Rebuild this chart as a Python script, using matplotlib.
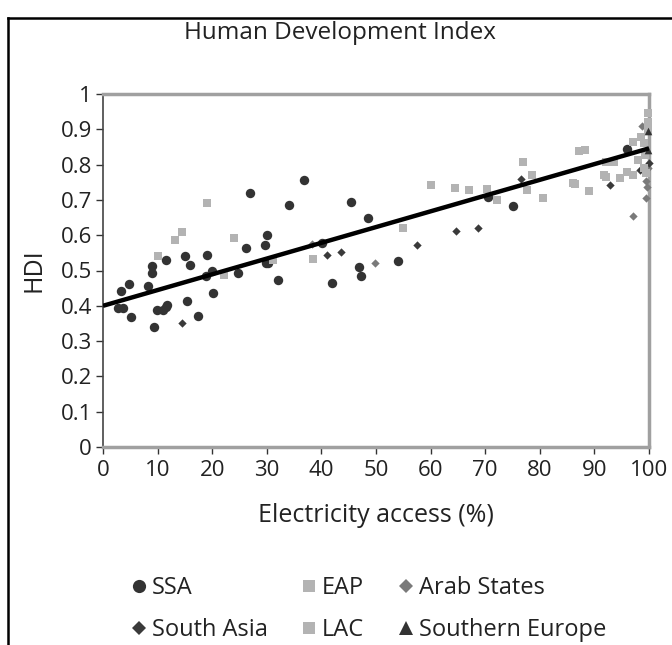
import matplotlib
matplotlib.use("Agg")
import matplotlib.pyplot as plt
from matplotlib.lines import Line2D

plt.rcParams['font.family'] = ['Open Sans', 'DejaVu Sans']

ssa_x = [3.3, 4.8, 2.8, 3.6, 5.1, 8.3, 9.0, 9.0, 9.3, 9.9, 11.0, 11.5, 11.8, 11.5, 15.0, 16.0, 15.4,
         17.4, 19.0, 20.0, 20.2, 24.8, 26.2, 27.0, 29.7, 30.0, 29.8, 30.2, 32.0, 34.0, 36.8, 45.4, 48.5,
         40.1, 42.0, 46.9, 47.3, 54.0, 70.5, 75.0, 96.0, 18.9]
ssa_y = [0.443, 0.461, 0.393, 0.393, 0.367, 0.457, 0.514, 0.493, 0.341, 0.388, 0.388, 0.396, 0.402,
         0.531, 0.542, 0.515, 0.414, 0.371, 0.543, 0.499, 0.435, 0.493, 0.565, 0.719, 0.572, 0.601,
         0.520, 0.520, 0.473, 0.686, 0.755, 0.694, 0.650, 0.577, 0.465, 0.511, 0.484, 0.527, 0.708,
         0.684, 0.845, 0.484]

eap_x = [10.1, 13.1, 14.5, 19.0, 24.0, 22.1, 38.5, 55.0, 60.0, 64.5, 67.1, 70.3, 72.1, 77.0, 77.6,
         78.6, 80.6, 87.1, 88.3, 86.1]
eap_y = [0.542, 0.585, 0.610, 0.692, 0.593, 0.487, 0.533, 0.620, 0.741, 0.735, 0.728, 0.731, 0.700,
         0.807, 0.728, 0.770, 0.704, 0.838, 0.840, 0.749]

lac_x = [86.4, 89.1, 91.8, 92.2, 92.2, 93.6, 94.6, 96.0, 97.1, 97.1, 98.6, 97.9, 99.9, 99.9, 99.9,
         99.0, 99.2, 99.0, 99.5, 31.2]
lac_y = [0.744, 0.726, 0.771, 0.766, 0.807, 0.807, 0.763, 0.779, 0.771, 0.865, 0.879, 0.813, 0.945,
         0.922, 0.898, 0.860, 0.827, 0.790, 0.775, 0.530]

arab_x = [38.3, 49.8, 97.1, 99.5, 99.6, 99.4, 98.7, 99.9]
arab_y = [0.575, 0.520, 0.654, 0.754, 0.737, 0.704, 0.910, 0.790]

sasia_x = [14.4, 41.0, 43.6, 57.6, 64.6, 68.6, 76.6, 92.8, 98.4, 100.0]
sasia_y = [0.352, 0.544, 0.553, 0.572, 0.612, 0.619, 0.759, 0.742, 0.785, 0.804]

seur_x = [99.8, 99.8]
seur_y = [0.895, 0.840]

trend_x = [0, 100]
trend_y = [0.40, 0.846]

x_ticks = [0, 10, 20, 30, 40, 50, 60, 70, 80, 90, 100]
y_ticks = [0, 0.1, 0.2, 0.3, 0.4, 0.5, 0.6, 0.7, 0.8, 0.9, 1]
y_ticklabels = ['0', '0.1', '0.2', '0.3', '0.4', '0.5', '0.6', '0.7', '0.8', '0.9', '1']

W, H = 672, 645
fig = plt.figure(figsize=(W / 100, H / 100), dpi=100)
ax = fig.add_axes([103 / W, 198 / H, 546 / W, 353 / H])

dark = '#333333'
light = '#b3b3b3'
mid = '#7a7a7a'
sdark = '#3a3a3a'

kw = dict(clip_on=False, linewidths=0, zorder=3)
ax.scatter(ssa_x, ssa_y, marker='o', s=46, color=dark, **kw)
ax.scatter(eap_x, eap_y, marker='s', s=36, color=light, **kw)
ax.scatter(arab_x, arab_y, marker='D', s=18, color=mid, **kw)
ax.scatter(sasia_x, sasia_y, marker='D', s=18, color=sdark, **kw)
ax.scatter(lac_x, lac_y, marker='s', s=36, color=light, **kw)
ax.scatter(seur_x, seur_y, marker='^', s=30, color=dark, **kw)

ax.plot(trend_x, trend_y, color='black', lw=3.2, zorder=5, solid_capstyle='butt')

ax.set_xlim(0, 100)
ax.set_ylim(0, 1)
ax.set_xticks(x_ticks)
ax.set_xticklabels([str(v) for v in x_ticks])
ax.set_yticks(y_ticks)
ax.set_yticklabels(y_ticklabels)
ax.tick_params(axis='both', direction='out', length=5, width=1, color='#333333',
               labelsize=16, labelcolor='#222222')
ax.tick_params(axis='x', pad=4)
ax.tick_params(axis='y', pad=3)

for side in ['top', 'right', 'bottom']:
    ax.spines[side].set_color('#a0a0a0')
    ax.spines[side].set_linewidth(2.5)
ax.spines['left'].set_color('#444444')
ax.spines['left'].set_linewidth(1.2)

ax.set_xlabel('Electricity access (%)', fontsize=18, color='#222222', labelpad=16)
ax.set_ylabel('HDI', fontsize=18, color='#222222', labelpad=10)

fig.text(340 / W, 1 - 33 / H, 'Human Development Index', ha='center', va='center',
         fontsize=17.5, color='#222222')

def mk(marker, color, size):
    return Line2D([], [], linestyle='none', marker=marker, markersize=size,
                  markerfacecolor=color, markeredgewidth=0)

handles = [mk('o', dark, 9.5), mk('D', sdark, 7.5), mk('s', light, 9),
           mk('s', light, 9), mk('D', mid, 7.5), mk('^', dark, 9.5)]
labels = ['SSA', 'South Asia', 'EAP', 'LAC', 'Arab States', 'Southern Europe']
leg = fig.legend(handles, labels, ncol=3, loc='center left',
                 bbox_to_anchor=(106 / W, 1 - 609 / H), frameon=False,
                 fontsize=17, handletextpad=0.05, columnspacing=1.25, labelspacing=0.75,
                 handlelength=1.0, labelcolor='#222222')

# outer black frame (left and top edges visible)
fig.add_artist(Line2D([8 / W, 8 / W], [0, 1 - 18 / H], color='black', lw=1.8,
                      transform=fig.transFigure))
fig.add_artist(Line2D([8 / W, 1], [1 - 18 / H, 1 - 18 / H], color='black', lw=1.8,
                      transform=fig.transFigure))

fig.savefig('out.png', dpi=100)
